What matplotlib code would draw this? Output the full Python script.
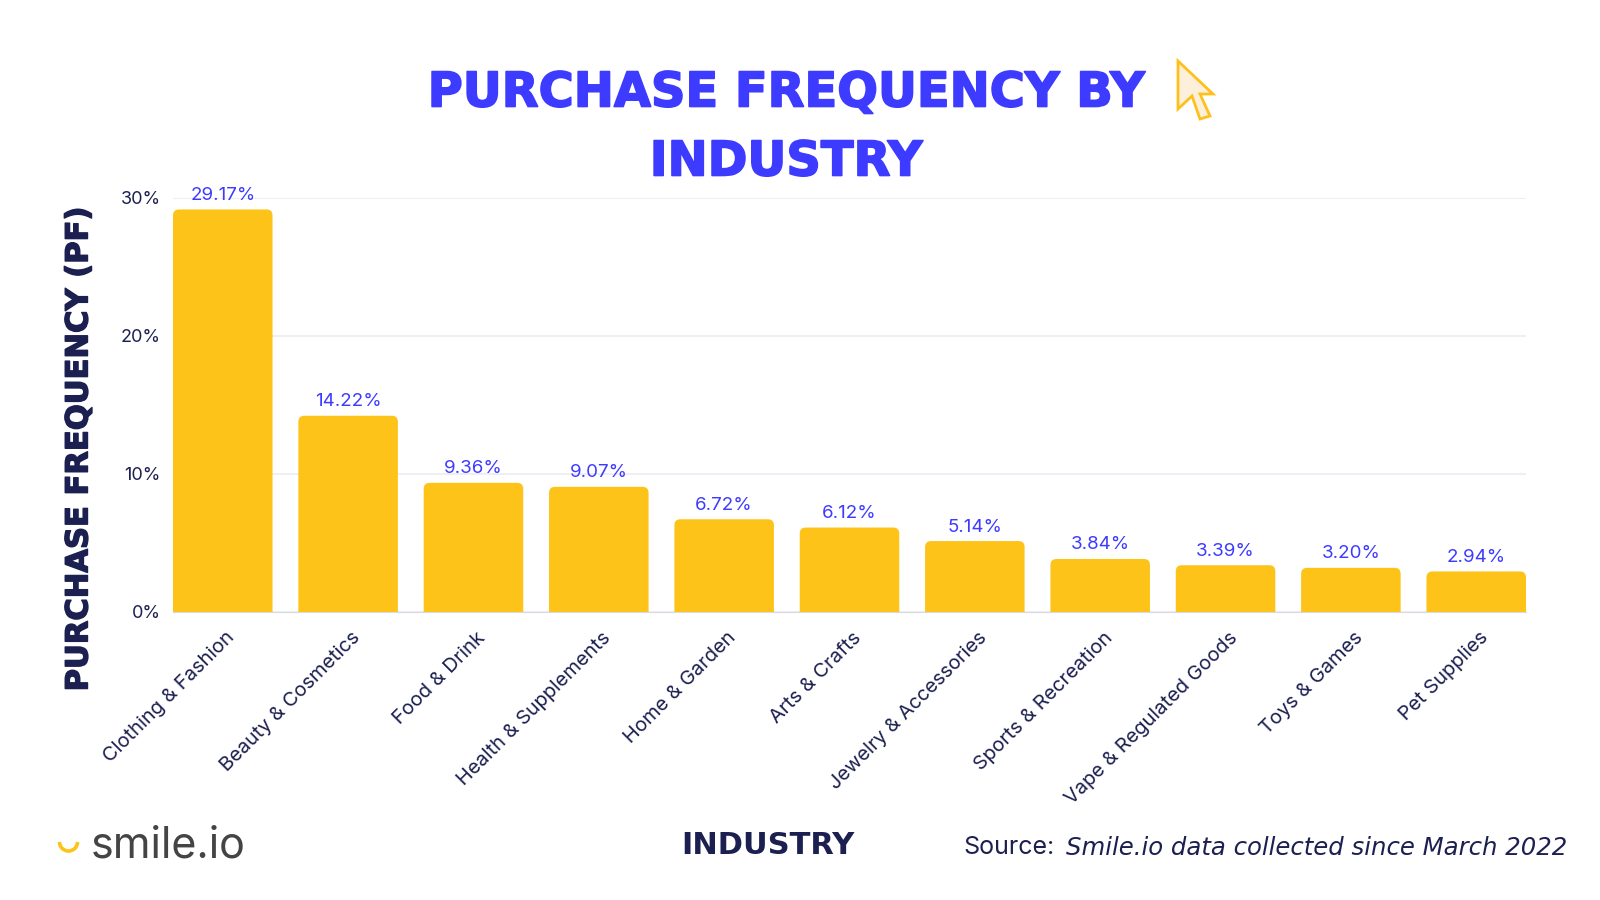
"""Purchase frequency by industry, bar chart."""

import matplotlib
matplotlib.use("Agg")
import matplotlib.patheffects as pe
import matplotlib.pyplot as plt
import matplotlib.transforms as mtrans
import numpy as np
from matplotlib.patches import Arc, FancyBboxPatch, Polygon

industries = [
    "Clothing & Fashion", "Beauty & Cosmetics", "Food & Drink",
    "Health & Supplements", "Home & Garden", "Arts & Crafts",
    "Jewelry & Accessories", "Sports & Recreation",
    "Vape & Regulated Goods", "Toys & Games", "Pet Supplies",
]
purchase_freq = [29.17, 14.22, 9.36, 9.07, 6.72, 6.12, 5.14, 3.84, 3.39, 3.20, 2.94]
y_ticks = [0, 10, 20, 30]
y_tick_labels = ["0%", "10%", "20%", "30%"]

BLUE = "#3D3BFF"
NAVY = "#1C2050"
YELLOW = "#FDC318"
FONT = "Inter"
W, H = 1600, 900

fig = plt.figure(figsize=(16, 9), dpi=100, facecolor="white")
ax = fig.add_axes([173 / W, 1 - 612 / H, (1526 - 173) / W, (612 - 198) / H])

# Rounded tops: take the bars' geometry and redraw them, the bottom corners get clipped
bar_w = 0.794
x = np.arange(len(industries))
bars = ax.bar(x, purchase_freq, width=bar_w, color=YELLOW, zorder=3)
ax.set_xlim(-bar_w / 2, len(industries) - 1 + bar_w / 2)
ax.set_ylim(0, 30)
px_x = 1353 / (len(industries) - 1 + bar_w)
px_y = 414 / 30
for b in bars:
    b.set_visible(False)
    r = 6 / px_x
    ry = 6 / px_y
    patch = FancyBboxPatch(
        (b.get_x() + r, -2), b.get_width() - 2 * r, b.get_height() + 2 - ry,
        boxstyle=f"round,pad={r},rounding_size={r}",
        mutation_aspect=px_x / px_y,
        fc=YELLOW, ec="none", zorder=3,
    )
    ax.add_patch(patch)

for xi, v in zip(x, purchase_freq):
    ax.annotate(f"{v:.2f}%", (xi, v), xytext=(0, 4), textcoords="offset points",
                ha="center", va="bottom", color=BLUE, fontsize=13.5, family=FONT,
                zorder=4)

ax.set_yticks(y_ticks, y_tick_labels, color=NAVY, fontsize=13, family=FONT)
ax.set_xticks(x, industries, color=NAVY, fontsize=14.4, family=FONT, rotation=45,
              ha="right", va="top", rotation_mode="anchor")
ax.tick_params(axis="x", length=0, pad=12)
ax.tick_params(axis="y", length=0, pad=9)
# tick_params resets label transforms, so this has to come after it
shift = mtrans.ScaledTranslation(3 / 100, 0, fig.dpi_scale_trans)
for lab in ax.get_xticklabels():
    lab.set_transform(lab.get_transform() + shift)
ax.grid(axis="y", color="#EBEBF3", linewidth=1.2, zorder=0)
ax.set_axisbelow(True)
for side in ["top", "right", "left"]:
    ax.spines[side].set_visible(False)
ax.spines["bottom"].set_color("#D9D9E0")
ax.spines["bottom"].set_zorder(5)

# Overlay in pixel coordinates for the title, captions and logo
ov = fig.add_axes([0, 0, 1, 1], facecolor="none")
ov.set_xlim(0, W)
ov.set_ylim(H, 0)
ov.axis("off")

heavy_blue = [pe.withStroke(linewidth=1.2, foreground=BLUE)]
heavy_navy = [pe.withStroke(linewidth=1.0, foreground=NAVY)]
ov.text(786, 93, "PURCHASE FREQUENCY BY", color=BLUE, fontsize=34.5, fontweight="bold",
        family="DejaVu Sans", ha="center", va="center", path_effects=heavy_blue)
ov.text(786, 162, "INDUSTRY", color=BLUE, fontsize=34.5, fontweight="bold",
        family="DejaVu Sans", ha="center", va="center", path_effects=heavy_blue)
ov.text(79, 450, "PURCHASE FREQUENCY (PF)", color=NAVY, fontsize=22, fontweight="bold",
        family="DejaVu Sans", rotation=90, ha="center", va="center", path_effects=heavy_navy)
ov.text(768, 845, "INDUSTRY", color=NAVY, fontsize=22, fontweight="bold",
        family="DejaVu Sans", ha="center", va="center")
ov.text(1567, 848, "Smile.io data collected since March 2022", color=NAVY, fontsize=17.6,
        family="DejaVu Sans", style="italic", ha="right", va="center")
ov.text(1055, 848, "Source:", color=NAVY, fontsize=18, family=FONT, ha="right", va="center")

# Cursor
cursor = [(1178, 61), (1178, 109), (1192, 96), (1200, 119), (1210, 116), (1200, 94), (1213, 94)]
ov.add_patch(Polygon(cursor, closed=True, fc="#FDF0DA", ec="#FFC01E", lw=2))

# Logo
ov.add_patch(Arc((68.5, 842), 18, 18, theta1=0, theta2=180, color=YELLOW, lw=2.6))
ov.text(91, 846, "smile.io", color="#444444", fontsize=31, family=FONT, ha="left", va="center")

fig.savefig("out.png", dpi=100)
